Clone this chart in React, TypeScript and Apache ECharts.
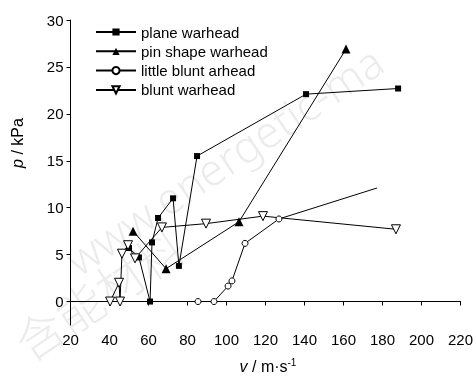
import React, { useEffect, useRef } from "react";
import * as echarts from "echarts";

const seriesNames = ["plane warhead", "pin shape warhead", "little blunt arhead", "blunt warhead"];

const planeX = [50, 55.1, 60.8, 61.8, 64.9, 72.6, 75.6, 84.9, 140.8, 188];
const planeY = [5.7, 4.7, 0, 6.3, 8.9, 11.0, 3.8, 15.5, 22.1, 22.7];

const pinX = [52.1, 69.0, 106.4, 161.3];
const pinY = [7.5, 3.5, 8.5, 26.9];

const littleX = [85.4, 93.6, 100.8, 102.8, 109.5, 126.9, 177.2];
const littleY = [0, 0, 1.65, 2.2, 6.2, 8.8, 12.1];

const bluntX = [40.3, 44.9, 45.4, 46.4, 49.5, 53.1, 66.9, 89.5, 118.7, 186.9];
const bluntY = [0, 2.0, 0, 5.1, 6.0, 4.6, 7.9, 8.3, 9.1, 7.7];

const yTickValues = [0, 5, 10, 15, 20, 25, 30];

const narrow = "'Liberation Sans Narrow', 'Liberation Sans', Arial, sans-serif";
const sans = "'Liberation Sans', Arial, sans-serif";

function zip(xs: number[], ys: number[]) {
  return xs.map((x, i) => [x, ys[i]]);
}

export default function App() {
  const ref = useRef<HTMLDivElement>(null);
  useEffect(() => {
    const chart = echarts.init(ref.current!, null, { renderer: "svg" });
    const lineStyle = { color: "#000", width: 1 };
    const littleData: any[] = zip(littleX, littleY).map((p, i) =>
      i === littleX.length - 1 ? { value: p, symbol: "none" } : p
    );
    chart.setOption({
      animation: false,
      grid: { left: 70.5, right: 15.5, top: 20, bottom: 51 },
      graphic: [
        {
          type: "text",
          z: -10,
          silent: true,
          x: 82,
          y: 282,
          rotation: (34 * Math.PI) / 180,
          style: {
            text: "www.energetic-ma",
            fontSize: 44,
            fontFamily: "'Noto Sans', sans-serif",
            fontWeight: 300,
            fill: "rgba(0,0,0,0.08)",
            align: "left",
            verticalAlign: "bottom",
          },
        },
        {
          type: "text",
          z: -10,
          silent: true,
          x: 32,
          y: 366,
          rotation: (34 * Math.PI) / 180,
          style: {
            text: "含能材料",
            fontSize: 48,
            fontFamily: "'Noto Sans CJK SC', sans-serif",
            fontWeight: 300,
            fill: "rgba(0,0,0,0.08)",
            align: "left",
            verticalAlign: "bottom",
          },
        },
        {
          type: "text",
          x: 17,
          y: 143,
          rotation: Math.PI / 2,
          style: {
            text: "{i|p} / kPa",
            fontSize: 16,
            fontFamily: narrow,
            fill: "#000",
            align: "center",
            verticalAlign: "middle",
            rich: { i: { fontStyle: "italic", fontSize: 16, fontFamily: narrow, fill: "#000" } },
          },
        },
        {
          type: "text",
          x: 268,
          y: 366,
          style: {
            text: "{i|v} / m·s{sup|-1}",
            fontSize: 16,
            fontFamily: narrow,
            fill: "#000",
            align: "center",
            verticalAlign: "middle",
            rich: {
              i: { fontStyle: "italic", fontSize: 16, fontFamily: narrow, fill: "#000" },
              sup: { fontSize: 10, fontFamily: narrow, fill: "#000", verticalAlign: "top", padding: [0, 0, 8, 0] },
            },
          },
        },
      ],
      legend: {
        orient: "vertical",
        left: 95,
        top: 24.5,
        padding: 0,
        itemWidth: 40,
        itemHeight: 9,
        itemGap: 4.3,
        textStyle: { fontFamily: sans, fontSize: 15, color: "#000" },
        data: seriesNames,
      },
      xAxis: {
        type: "value",
        min: 20,
        max: 220,
        interval: 20,
        splitLine: { show: false },
        axisLine: { lineStyle: { color: "#000", width: 1 } },
        axisTick: { inside: false, length: 4, lineStyle: { color: "#000" } },
        axisLabel: { color: "#000", fontSize: 15, fontFamily: narrow, margin: 7 },
      },
      yAxis: {
        type: "value",
        min: -2.5,
        max: 30,
        splitLine: { show: false },
        axisLine: { show: true, lineStyle: { color: "#000", width: 1 } },
        axisTick: { show: true, inside: false, length: 4, customValues: yTickValues, lineStyle: { color: "#000" } },
        axisLabel: { color: "#000", fontSize: 15, fontFamily: narrow, margin: 7, customValues: yTickValues },
      },
      series: [
        {
          name: seriesNames[0],
          type: "line",
          data: zip(planeX, planeY),
          symbol: "rect",
          symbolSize: 6,
          itemStyle: { color: "#000" },
          lineStyle,
        },
        {
          name: seriesNames[1],
          type: "line",
          data: zip(pinX, pinY),
          symbol: "triangle",
          symbolSize: 9,
          itemStyle: { color: "#000" },
          lineStyle,
        },
        {
          name: seriesNames[2],
          type: "line",
          data: littleData,
          symbol: "circle",
          symbolSize: 6,
          showAllSymbol: true,
          itemStyle: { color: "#fff", borderColor: "#000", borderWidth: 1 },
          lineStyle,
        },
        {
          name: seriesNames[3],
          type: "line",
          data: zip(bluntX, bluntY),
          symbol: "triangle",
          symbolRotate: 180,
          symbolSize: 9,
          showAllSymbol: true,
          itemStyle: { color: "#fff", borderColor: "#000", borderWidth: 1 },
          lineStyle,
        },
      ],
    });
    return () => chart.dispose();
  }, []);
  return <div ref={ref} style={{ position: "fixed", left: 0, top: 0, width: 476, height: 376 }} />;
}
